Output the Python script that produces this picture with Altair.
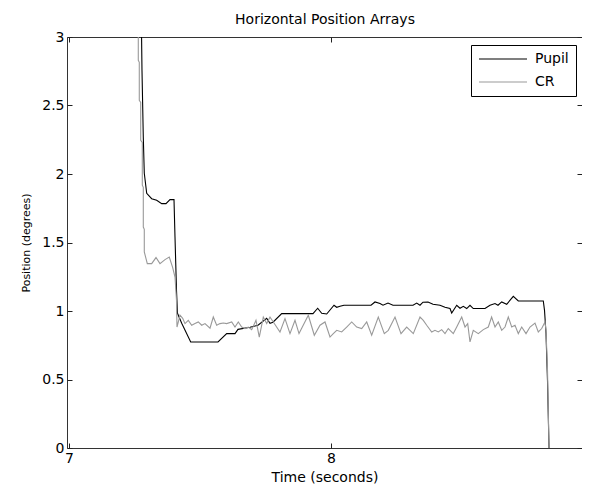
import altair as alt
import pandas as pd

pupil_t = [7.2740, 7.2767, 7.2786, 7.2836, 7.2874, 7.2966, 7.3156, 7.3347, 7.3538, 7.3702,
           7.3855, 7.4008, 7.4046, 7.4103, 7.4141, 7.4302, 7.4645, 7.5687, 7.6019, 7.6336,
           7.6450, 7.6908, 7.7214, 7.7546, 7.7672, 7.7786, 7.8118, 7.9313, 7.9492, 7.9645,
           7.9836, 8.0115, 8.0218, 8.0344, 8.0496, 8.1527, 8.1679, 8.1870, 8.1985, 8.2176,
           8.2366, 8.3130, 8.3271, 8.3397, 8.3511, 8.3702, 8.3893, 8.4160, 8.4351, 8.4542,
           8.4607, 8.4798, 8.4924, 8.5050, 8.5179, 8.5305, 8.5431, 8.5878, 8.6069, 8.6260,
           8.6374, 8.6515, 8.6706, 8.6958, 8.7149, 8.8103, 8.8149, 8.8206, 8.8263, 8.8321]
pupil_v = [3.60, 3.05, 2.757, 2.268, 2.005, 1.859, 1.820, 1.808, 1.784, 1.784,
           1.813, 1.813, 1.540, 1.151, 0.983, 0.910, 0.774, 0.774, 0.835, 0.835,
           0.866, 0.881, 0.896, 0.947, 0.910, 0.918, 0.981, 0.981, 1.020, 0.983,
           0.978, 1.042, 1.027, 1.034, 1.042, 1.042, 1.066, 1.054, 1.042, 1.058,
           1.042, 1.042, 1.058, 1.042, 1.064, 1.066, 1.049, 1.042, 1.027, 1.018,
           0.985, 1.042, 1.020, 1.034, 1.018, 1.042, 1.018, 1.018, 1.042, 1.054,
           1.042, 1.066, 1.049, 1.107, 1.073, 1.073, 1.005, 0.837, 0.494, 0.0]

cr_t = [7.2645, 7.2645, 7.2683, 7.2683, 7.2737, 7.2737, 7.2798, 7.2798, 7.2836, 7.2836,
        7.2874, 7.2874, 7.2989, 7.3156, 7.3321, 7.3473, 7.3664, 7.3828, 7.3958, 7.4046,
        7.4103, 7.4122, 7.4237, 7.4340, 7.4427, 7.4553, 7.4683, 7.4809, 7.4935, 7.5065,
        7.5191, 7.5382, 7.5508, 7.5637, 7.5763, 7.5889, 7.6019, 7.6210, 7.6336, 7.6462,
        7.6592, 7.6718, 7.6844, 7.6973, 7.7137, 7.7263, 7.7416, 7.7546, 7.7672, 7.7798,
        7.8053, 7.8244, 7.8435, 7.8626, 7.8779, 7.9134, 7.9363, 7.9580, 7.9771, 7.9962,
        8.0088, 8.0218, 8.0408, 8.0599, 8.0790, 8.0981, 8.1172, 8.1363, 8.1553, 8.1805,
        8.2034, 8.2187, 8.2443, 8.2672, 8.2889, 8.3141, 8.3397, 8.3523, 8.3653, 8.3844,
        8.3969, 8.4095, 8.4225, 8.4351, 8.4477, 8.4668, 8.4798, 8.4989, 8.5115, 8.5218,
        8.5305, 8.5431, 8.5622, 8.5813, 8.6004, 8.6130, 8.6260, 8.6385, 8.6515, 8.6641,
        8.6767, 8.6897, 8.7023, 8.7149, 8.7279, 8.7443, 8.7595, 8.7786, 8.7912, 8.8042,
        8.8168, 8.8206, 8.8263, 8.8321]
cr_v = [3.60, 2.830, 2.815, 2.538, 2.523, 2.246, 2.231, 1.918, 1.903, 1.613,
        1.596, 1.431, 1.346, 1.346, 1.390, 1.346, 1.375, 1.394, 1.317, 1.248,
        1.078, 0.883, 0.969, 0.947, 0.908, 0.932, 0.896, 0.908, 0.920, 0.896,
        0.908, 0.874, 0.956, 0.896, 0.908, 0.912, 0.908, 0.920, 0.883, 0.920,
        0.883, 0.872, 0.883, 0.864, 0.932, 0.810, 0.956, 0.908, 0.956, 0.920,
        0.847, 0.945, 0.835, 0.932, 0.835, 0.969, 0.823, 0.896, 0.920, 0.810,
        0.835, 0.859, 0.847, 0.883, 0.920, 0.883, 0.872, 0.920, 0.823, 0.956,
        0.835, 0.859, 0.956, 0.835, 0.883, 0.835, 0.956, 0.932, 0.896, 0.847,
        0.859, 0.847, 0.864, 0.835, 0.872, 0.835, 0.883, 0.956, 0.883, 0.908,
        0.774, 0.859, 0.835, 0.864, 0.883, 0.956, 0.883, 0.920, 0.859, 0.883,
        0.956, 0.883, 0.896, 0.835, 0.883, 0.835, 0.883, 0.912, 0.847, 0.872,
        0.920, 0.859, 0.567, 0.0]

series_names = ["Pupil", "CR"]
series_colors = ["#000000", "#999999"]
x_ticks = [7, 8]
y_ticks = [0, 0.5, 1, 1.5, 2, 2.5, 3]

df = pd.concat([
    pd.DataFrame({"t": pupil_t, "v": pupil_v, "series": "Pupil", "order": range(len(pupil_t))}),
    pd.DataFrame({"t": cr_t, "v": cr_v, "series": "CR", "order": range(len(cr_t))}),
])

FONT = "DejaVu Sans"
xscale = alt.Scale(domain=[6.9924, 8.958], nice=False, zero=False)
yscale = alt.Scale(domain=[0, 3], nice=False)

common_axis = dict(grid=False, domain=False, tickSize=5, offset=-5, tickColor="#222",
                   labelColor="#000", labelFont=FONT, labelFontSize=14,
                   titleFont=FONT, titleFontSize=14, titleFontWeight="normal", titleColor="#000")

base = alt.Chart(df)

lines = base.mark_line(strokeWidth=1.1, clip=True, interpolate="linear").encode(
    x=alt.X("t:Q", scale=xscale,
            axis=alt.Axis(values=x_ticks, format="d", title="Time (seconds)",
                          labelPadding=3, titlePadding=5, **common_axis)),
    y=alt.Y("v:Q", scale=yscale,
            axis=alt.Axis(values=y_ticks, format="~g", title="Position (degrees)",
                          labelPadding=3, titlePadding=10,
                          **{**common_axis, "titleFontSize": 11})),
    color=alt.Color("series:N",
                    scale=alt.Scale(domain=series_names, range=series_colors),
                    sort=series_names,
                    legend=alt.Legend(title=None, orient="none", legendX=404, legendY=8,
                                      symbolType="M-1,0H7", symbolSize=144, symbolStrokeWidth=1.1,
                                      labelFont=FONT, labelFontSize=14, labelColor="#000",
                                      labelOffset=43, padding=7, rowPadding=9,
                                      strokeColor="#000", fillColor="#ffffff", cornerRadius=0)),
    detail="series:N",
    order="order:Q",
)

mirror = base.mark_line(opacity=0).encode(
    x=alt.X("t:Q", scale=xscale,
            axis=alt.Axis(values=x_ticks, orient="top", labels=False,
                          title="Horizontal Position Arrays", titlePadding=10, **common_axis)),
    y=alt.Y("v:Q", scale=yscale,
            axis=alt.Axis(values=y_ticks, orient="right", labels=False, title=None, **common_axis)),
    detail="series:N",
)

chart = alt.layer(lines, mirror).resolve_axis(x="independent", y="independent").properties(
    width=515, height=411,
    background="white",
    autosize=alt.AutoSizeParams(type="none"),
    padding={"left": 59, "top": 29, "right": 0, "bottom": 36},
).configure_view(stroke="#333333", strokeWidth=1)

chart.save("out.html", embed_options={"renderer": "svg", "actions": False})
